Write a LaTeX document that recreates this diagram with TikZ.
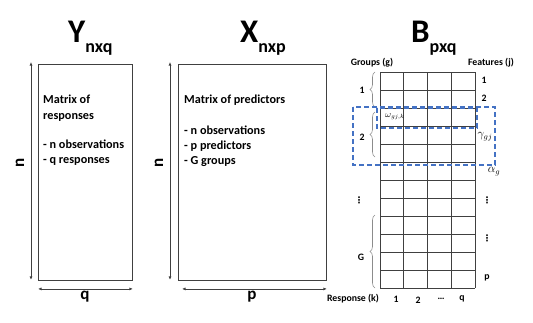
\documentclass[tikz,border=0pt]{standalone}
\usepackage{fontspec}
\setmainfont{Carlito}
\newfontfamily\dejavu{DejaVu Sans}
\usetikzlibrary{arrows.meta,decorations.pathreplacing}
\definecolor{boxgray}{HTML}{404040}
\definecolor{dashblue}{HTML}{4472C4}
\definecolor{bracegray}{HTML}{8C8C8C}
\newcommand{\mytitlefont}{\fontsize{33}{33}\selectfont\bfseries}
\newcommand{\mysubfont}{\fontsize{18}{18}\selectfont\bfseries}
\begin{document}
\begin{tikzpicture}[x=1pt,y=-1pt,
  box/.style={draw=boxgray, line width=0.9pt, inner sep=0pt, anchor=north west},
  dimarrow/.style={draw=boxgray, line width=0.8pt, {Latex[length=3.5pt,width=3pt]}-{Latex[length=3.5pt,width=3pt]}},
  dimlabel/.style={font=\fontsize{17}{17}\selectfont\bfseries, inner sep=0pt},
  bodytext/.style={font=\fontsize{12.2}{15.3}\selectfont\bfseries, align=left, anchor=north west, inner sep=0pt},
  smalltext/.style={font=\fontsize{9.8}{10}\selectfont\bfseries, inner sep=0pt},
  dotstext/.style={font=\dejavu\fontsize{9}{9}\selectfont\bfseries, inner sep=0pt},
  mathlabel/.style={inner sep=0pt, font=\fontsize{12}{12}\selectfont},
  gridline/.style={draw=boxgray, line width=0.9pt},
  bracestyle/.style={draw=bracegray, line width=0.6pt, decorate, decoration={brace, amplitude=5pt}},
  dashbox/.style={draw=dashblue, line width=1.3pt, dash pattern=on 5pt off 3pt},
  title/.style={anchor=base west, inner sep=0pt, font=\mytitlefont}
]
\useasboundingbox (0,0) rectangle (533,322);

% ---------- Y ----------
\node[title] (Ytitle) at (68,42) {Y\raisebox{-10pt}{\mysubfont nxq}};
\node[box, minimum width=94pt, minimum height=216pt] (Ybox) at (38,64) {};
\node[bodytext] (Ytext) at (43,95) {Matrix of\\responses\\[14pt]- n observations\\- q responses};
\draw[dimarrow] ([xshift=-7pt,yshift=2pt]Ybox.north west) -- ([xshift=-7pt,yshift=1pt]Ybox.south west);
\draw[dimarrow] ([yshift=-8pt]Ybox.south west) -- ([yshift=-8pt]Ybox.south east);
\node[dimlabel, rotate=90] (Yn) at (20,163) {n};
\node[dimlabel] (Yq) at (85,297) {q};

% ---------- X ----------
\node[title] (Xtitle) at (240,42) {X\raisebox{-10pt}{\mysubfont nxp}};
\node[box, minimum width=148pt, minimum height=216pt] (Xbox) at (178,64) {};
\node[bodytext] (Xtext) at (184,95) {Matrix of predictors\\[15pt]- n observations\\- p predictors\\- G groups};
\draw[dimarrow] ([xshift=-8pt,yshift=2pt]Xbox.north west) -- ([xshift=-8pt,yshift=1pt]Xbox.south west);
\draw[dimarrow] ([xshift=4pt,yshift=-8pt]Xbox.south west) -- ([yshift=-8pt]Xbox.south east);
\node[dimlabel, rotate=90] (Xn) at (159,163) {n};
\node[dimlabel] (Xp) at (252,297) {p};

% ---------- B ----------
\node[title] (Btitle) at (411,42) {B\raisebox{-10pt}{\mysubfont pxq}};
\coordinate (Btl) at (380,72);
\coordinate (Bbr) at (475,288);
\foreach \i in {0,...,12} {
  \draw[gridline] (380,72+18*\i) -- (475,72+18*\i);
}
\foreach \j in {0,...,4} {
  \draw[gridline] (380+23.75*\j,72) -- (380+23.75*\j,288);
}

\node[smalltext] (groups) at (372,63) {Groups (g)};
\node[smalltext] (features) at (491,63) {Features (j)};

% right labels
\node[smalltext] (f1) at (484,80) {1};
\node[smalltext] (f2) at (484,98) {2};
\node[mathlabel] (gam) at (485,137) {$\gamma_{gj}$};
\node[mathlabel] (alp) at (494,172) {$\alpha_{g}$};
\node[dotstext] (fd1) at (487,200) {⋮};
\node[dotstext] (fd2) at (487,238) {⋮};
\node[smalltext] (fp) at (487,278) {p};

% left groups
\draw[bracestyle] (375,107) -- (375,72);
\draw[bracestyle] (375,157) -- (375,112);
\draw[bracestyle] (375,288) -- (375,215);
\node[smalltext] (g1) at (362,90) {1};
\node[smalltext] (g2) at (362,137) {2};
\node[dotstext] (gd) at (359,200) {⋮};
\node[smalltext] (gG) at (361,257) {G};

% bottom labels
\node[smalltext] (resp) at (353,299) {Response (k)};
\node[smalltext] (r1) at (396,299) {1};
\node[smalltext] (r2) at (418,300) {2};
\node[smalltext] (rd) at (441,299) {…};
\node[smalltext] (rq) at (462,299) {q};

% dashed selections
\draw[dashbox] (353,107) rectangle (495,165);
\draw[dashbox] (377,108) rectangle (477,128);
\node[inner sep=0pt, font=\fontsize{9}{9}\selectfont] (omega) at (395,117) {$\omega_{gj,k}$};
\end{tikzpicture}
\end{document}
